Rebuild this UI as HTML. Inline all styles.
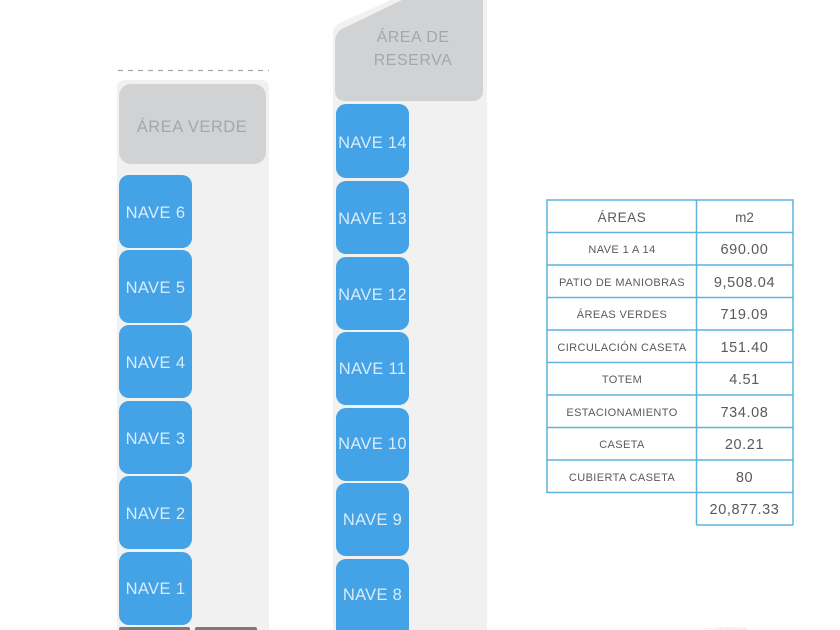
<!DOCTYPE html>
<html><head><meta charset="utf-8"><style>
html,body{margin:0;padding:0;background:#fff;}
svg{display:block;}
text{font-family:"Liberation Sans",sans-serif;}
</style></head><body>
<svg width="840" height="630" viewBox="0 0 840 630" xmlns="http://www.w3.org/2000/svg">
<!-- left column -->
<line x1="118" y1="70.5" x2="269" y2="70.5" stroke="#a8a8a8" stroke-width="1.2" stroke-dasharray="5,5"/>
<path d="M117 640 L117 88 Q117 80 125 80 L261 80 Q269 80 269 88 L269 640 Z" fill="#f1f1f2"/>
<rect x="119" y="84" width="147" height="80" rx="12" fill="#d1d2d4"/>
<text x="192" y="132" font-size="16.5" fill="#a6a7a9" text-anchor="middle" letter-spacing="0.5">ÁREA VERDE</text>
<g fill="#44a2e6">
<rect x="119" y="175" width="73" height="73" rx="10"/>
<rect x="119" y="250" width="73" height="73" rx="10"/>
<rect x="119" y="325" width="73" height="73" rx="10"/>
<rect x="119" y="401" width="73" height="73" rx="10"/>
<rect x="119" y="476" width="73" height="73" rx="10"/>
<rect x="119" y="552" width="73" height="73" rx="10"/>
</g>
<g font-size="16.5" fill="#d9ecfa" text-anchor="middle" letter-spacing="0.4">
<text x="155.5" y="218">NAVE 6</text>
<text x="155.5" y="293">NAVE 5</text>
<text x="155.5" y="368">NAVE 4</text>
<text x="155.5" y="444">NAVE 3</text>
<text x="155.5" y="519">NAVE 2</text>
<text x="155.5" y="594">NAVE 1</text>
</g>
<rect x="119" y="627" width="71" height="6" rx="2" fill="#7a7a7a"/>
<rect x="195" y="627" width="62" height="6" rx="2" fill="#7a7a7a"/>

<!-- right column -->
<path d="M333 640 L333 32 Q333 26 340 23 L395 -2 L487 -2 L487 640 Z" fill="#f1f1f2"/>
<path d="M335 100 L335 42 Q335 32 344 28 L402 0 L483 0 L483 90 Q483 101 472 101 L346 101 Q335 101 335 90 Z" fill="#d1d2d4"/>
<text x="413" y="42" font-size="16" fill="#a6a7a9" text-anchor="middle" letter-spacing="0.5">ÁREA DE</text>
<text x="413" y="65" font-size="16" fill="#a6a7a9" text-anchor="middle" letter-spacing="0.5">RESERVA</text>
<g fill="#44a2e6">
<rect x="336" y="104" width="73" height="74" rx="10"/>
<rect x="336" y="181" width="73" height="73" rx="10"/>
<rect x="336" y="257" width="73" height="73" rx="10"/>
<rect x="336" y="332" width="73" height="73" rx="10"/>
<rect x="336" y="408" width="73" height="73" rx="10"/>
<rect x="336" y="483" width="73" height="73" rx="10"/>
<rect x="336" y="559" width="73" height="80" rx="10"/>
</g>
<g font-size="16.5" fill="#d9ecfa" text-anchor="middle" letter-spacing="0.3">
<text x="372.5" y="148">NAVE 14</text>
<text x="372.5" y="224">NAVE 13</text>
<text x="372.5" y="300">NAVE 12</text>
<text x="372.5" y="374">NAVE 11</text>
<text x="372.5" y="449">NAVE 10</text>
<text x="372.5" y="525">NAVE 9</text>
<text x="372.5" y="600">NAVE 8</text>
</g>

<!-- table -->
<g stroke="#5fb2de" stroke-width="1.5" fill="none">
<rect x="547" y="200" width="246" height="292.5"/>
<line x1="696.5" y1="200" x2="696.5" y2="525"/>
<line x1="793" y1="492.5" x2="793" y2="525"/>
<line x1="696.5" y1="525" x2="793" y2="525"/>
<line x1="547" y1="232.5" x2="793" y2="232.5"/>
<line x1="547" y1="265" x2="793" y2="265"/>
<line x1="547" y1="297.5" x2="793" y2="297.5"/>
<line x1="547" y1="330" x2="793" y2="330"/>
<line x1="547" y1="362.5" x2="793" y2="362.5"/>
<line x1="547" y1="395" x2="793" y2="395"/>
<line x1="547" y1="427.5" x2="793" y2="427.5"/>
<line x1="547" y1="460" x2="793" y2="460"/>
</g>
<g fill="#5a5a5a" text-anchor="middle">
<text x="622" y="222" font-size="13.5" letter-spacing="0.6">ÁREAS</text>
<text x="744.5" y="222" font-size="13.5">m2</text>
<g font-size="11" letter-spacing="0.4">
<text x="622" y="253">NAVE 1 A 14</text>
<text x="622" y="286">PATIO DE MANIOBRAS</text>
<text x="622" y="318">ÁREAS VERDES</text>
<text x="622" y="351">CIRCULACIÓN CASETA</text>
<text x="622" y="383">TOTEM</text>
<text x="622" y="416">ESTACIONAMIENTO</text>
<text x="622" y="448">CASETA</text>
<text x="622" y="481">CUBIERTA CASETA</text>
</g>
<g font-size="14.5" letter-spacing="0.6">
<text x="744.5" y="254">690.00</text>
<text x="744.5" y="287">9,508.04</text>
<text x="744.5" y="319">719.09</text>
<text x="744.5" y="352">151.40</text>
<text x="744.5" y="384">4.51</text>
<text x="744.5" y="417">734.08</text>
<text x="744.5" y="449">20.21</text>
<text x="744.5" y="482">80</text>
<text x="744.5" y="514">20,877.33</text>
</g>
</g>
<text x="705" y="630" font-size="4" fill="#cfcfcf">▪ ▪ ▪ ▪  CONTRATACIÓN</text>
</svg>
</body></html>
